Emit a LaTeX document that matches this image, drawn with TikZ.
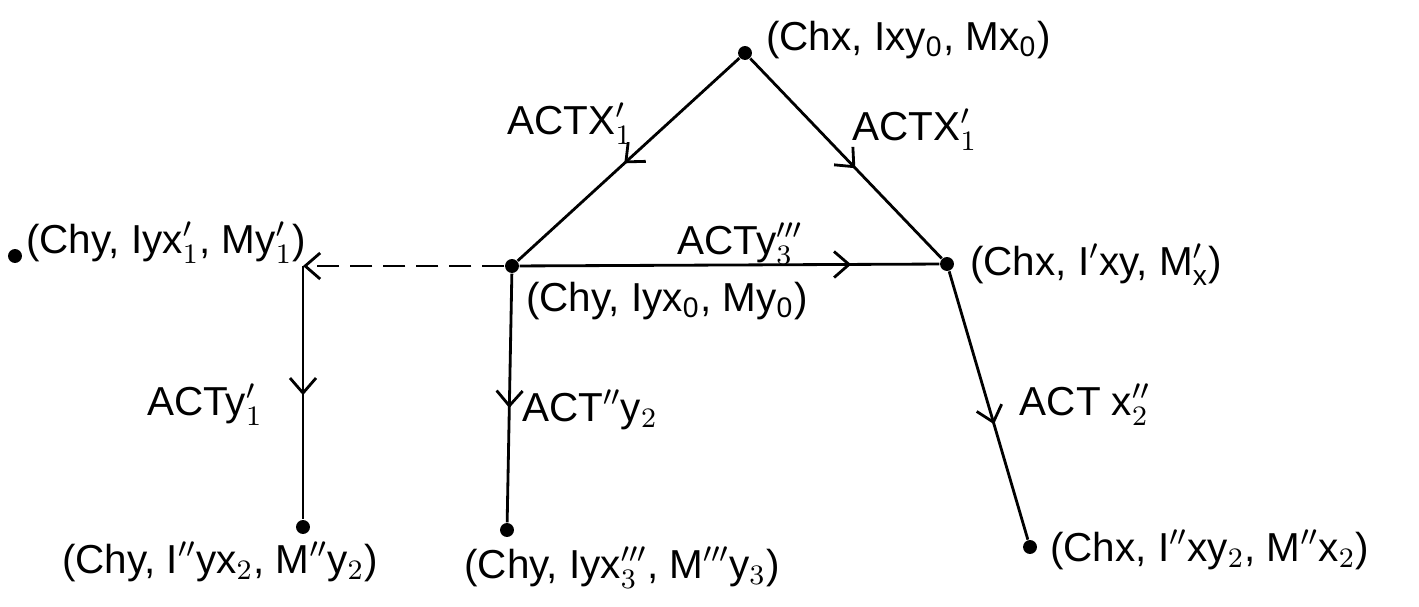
\documentclass[tikz,border=0pt]{standalone}
\usepackage{fontspec}
\setmainfont{Liberation Sans}
\usetikzlibrary{arrows.meta,positioning,decorations.markings}

\begin{document}
\begin{tikzpicture}[
  x=0.01cm, y=-0.01cm,
  font=\fontsize{11.5}{13}\selectfont,
  dot/.style={circle, fill=black, inner sep=1.4pt},
  state/.style={inner sep=1pt},
  act/.style={inner sep=1pt},
  flow/.style={line width=0.8pt, postaction={decorate},
    decoration={markings, mark=at position #1 with
      {\arrow{Straight Barb[length=1.5mm, width=2.6mm, line width=0.8pt]}}}},
  hint/.style={-{Straight Barb[length=1.5mm, width=2.6mm, line width=0.8pt]},
    line width=0.8pt, dash pattern=on 2.2mm off 1.1mm}
]
\useasboundingbox (0,0) rectangle (1419,607);

% states
\node[dot] (top) at (745,53) {};
\node[dot] (ymid) at (512,266) {};
\node[dot] (xmid) at (947,264) {};
\node[dot] (yleft) at (15,256) {};
\coordinate (corner) at (303,266);
\node[dot] (ybotl) at (303,527) {};
\node[dot] (ybotr) at (507,530) {};
\node[dot] (xbot) at (1030,547) {};

\node[state, anchor=west] (topl) at (762,40) {(Chx, Ixy\textsubscript{0}, Mx\textsubscript{0})};
\node[state, anchor=north west] (ymidl) at (522,278) {(Chy, Iyx\textsubscript{0}, My\textsubscript{0})};
\node[state, anchor=west] (xmidl) at (966,265) {(Chx, I$'$xy, M$'_{\mathrm{x}}$)};
\node[state, anchor=west] (yleftl) at (22,243) {(Chy, Iyx$'_1$, My$'_1$)};
\node[state] (ybotll) at (220,562) {(Chy, I$''$yx$_2$, M$''$y$_2$)};
\node[state] (ybotrl) at (622,568) {(Chy, Iyx$'''_3$, M$'''$y$_3$)};
\node[state, anchor=west] (xbotl) at (1046,550) {(Chx, I$''$xy$_2$, M$''$x$_2$)};

% transitions
\draw[flow=0.52] (top) -- (ymid);
\draw[flow=0.55] (top) -- (xmid);
\draw[flow=0.79] (ymid) -- (xmid);
\draw[hint] (ymid) -- (corner);
\draw[flow=0.51] (corner) -- (ybotl);
\draw[flow=0.54] (ymid) -- (ybotr);
\draw[flow=0.57] (xmid) -- (xbot);

\node[act] (a1) at (570,124) {ACTX$'_1$};
\node[act] (a2) at (915,130) {ACTX$'_1$};
\node[act] (a3) at (740,244) {ACTy$'''_3$};
\node[act] (a4) at (205,405) {ACTy$'_1$};
\node[act] (a5) at (590,410) {ACT$''$y$_2$};
\node[act] (a6) at (1085,405) {ACT x$''_2$};

\end{tikzpicture}
\end{document}
